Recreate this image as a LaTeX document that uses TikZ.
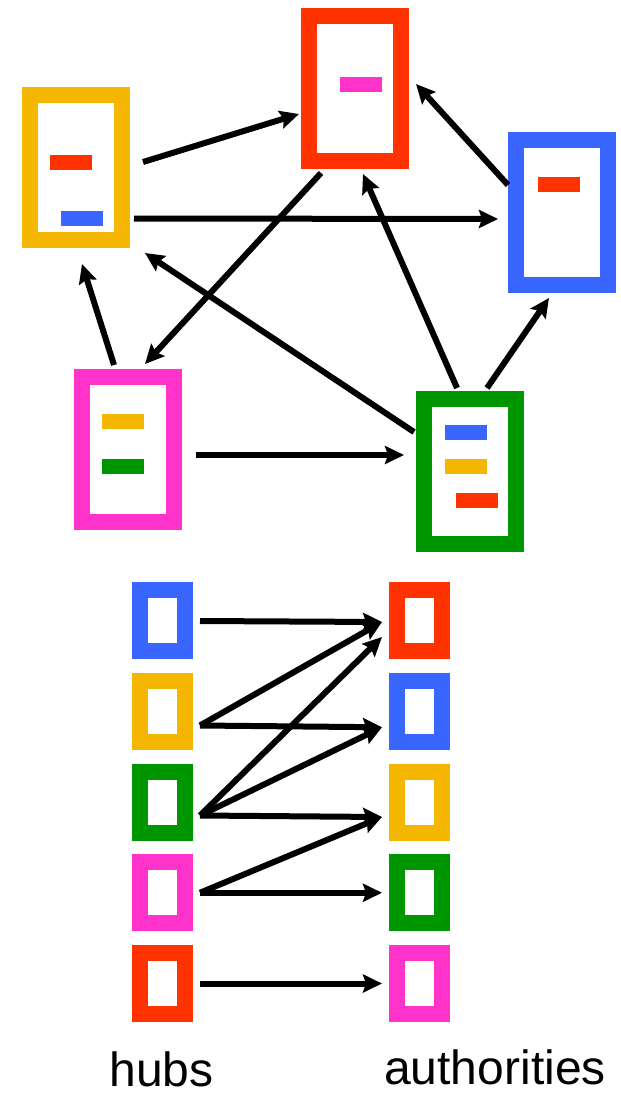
\documentclass[tikz,border=0pt]{standalone}
\usepackage{fontspec}
\setmainfont{Liberation Sans}
\usetikzlibrary{arrows.meta,positioning,calc}
\definecolor{pgred}{RGB}{255,51,0}
\definecolor{pgyellow}{RGB}{244,182,0}
\definecolor{pgblue}{RGB}{56,102,255}
\definecolor{pggreen}{RGB}{0,150,0}
\definecolor{pgpink}{RGB}{255,51,204}

\begin{document}
\begin{tikzpicture}[x=1pt,y=-1pt,>={Stealth[length=19pt,width=18pt,inset=3pt]},
  page/.style={draw=#1,line width=16pt,outer sep=8pt,inner sep=0pt,minimum width=92pt,minimum height=145pt},
  mini/.style={draw=#1,line width=16pt,outer sep=8pt,inner sep=0pt,minimum width=45pt,minimum height=61pt},
  bar/.style={fill=#1,inner sep=0pt,minimum width=42pt,minimum height=15pt},
  link/.style={->,line width=6pt},
  caption/.style={font=\fontsize{48}{56}\selectfont,anchor=base,inner sep=0pt}]
\useasboundingbox (0,0) rectangle (621,1093);
% web graph
\node[page=pgred]    (R) at (355,88.5) {};
\node[page=pgyellow] (Y) at (76,167.5) {};
\node[page=pgblue]   (B) at (562,212.5) {};
\node[page=pgpink]   (P) at (128,449) {};
\node[page=pggreen]  (G) at (470,471.5) {};
\node[bar=pgpink]   (Rl1) at ($(R)+(6,-4)$) {};
\node[bar=pgred]    (Yl1) at ($(Y)+(-5,-5)$) {};
\node[bar=pgblue]   (Yl2) at ($(Y)+(6,51)$) {};
\node[bar=pgred]    (Bl1) at ($(B)+(-3,-28)$) {};
\node[bar=pgyellow] (Pl1) at ($(P)+(-5,-28)$) {};
\node[bar=pggreen]  (Pl2) at ($(P)+(-5,17)$) {};
\node[bar=pgblue]   (Gl1) at ($(G)+(-4,-39)$) {};
\node[bar=pgyellow] (Gl2) at ($(G)+(-4,-5)$) {};
\node[bar=pgred]    (Gl3) at ($(G)+(7,29)$) {};
\draw[link] ($(Y.east)+(13,-5.5)$) -- ($(R.west)+(-2,25.5)$);
\draw[link] ($(Y.east)+(4,51)$) -- ($(B.west)+(-10,6.5)$);
\draw[link] ($(B.west)+(0,-27.5)$) -- ($(R.east)+(7,-4.5)$);
\draw[link] ($(R.south)+(-34,4)$) -- ($(P.north)+(17,-4.5)$);
\draw[link] ($(G.west)+(-2,-39.5)$) -- ($(Y.south)+(69,5)$);
\draw[link] ($(G.north)+(-13,-3)$) -- ($(R.south)+(8,5)$);
\draw[link] ($(G.north)+(17,-3)$) -- ($(B.south)+(-13,5)$);
\draw[link] ($(P.north)+(-14,-3.5)$) -- ($(Y.south)+(6,16)$);
\draw[link] ($(P.east)+(14,6)$) -- ($(G.west)+(-12,-16.5)$);
% hubs and authorities
\foreach \c [count=\i] in {pgblue,pgyellow,pggreen,pgpink,pgred}
  \node[mini=\c] (h\i) at (162,529.75+90.75*\i) {};
\foreach \c [count=\i] in {pgred,pgblue,pgyellow,pggreen,pgpink}
  \node[mini=\c] (a\i) at (419.5,529.75+90.75*\i) {};
\coordinate (s1) at ($(h1.east)+(7.5,0.5)$);
\coordinate (s2) at ($(h2.east)+(7.5,14.25)$);
\coordinate (s3) at ($(h3.east)+(7.5,13.5)$);
\coordinate (s4) at ($(h4.east)+(7.5,0)$);
\coordinate (s5) at ($(h5.east)+(7.5,0)$);
\coordinate (t1) at ($(a1.west)+(-7,1.5)$);
\coordinate (t1b) at ($(a1.west)+(-7,16.5)$);
\coordinate (t2) at ($(a2.west)+(-7,16)$);
\coordinate (t3) at ($(a3.west)+(-7,15)$);
\coordinate (t4) at ($(a4.west)+(-7,0)$);
\coordinate (t5) at ($(a5.west)+(-7,0)$);
\foreach \a/\b in {s1/t1,s2/t1,s2/t2,s3/t1b,s3/t2,s3/t3,s4/t3,s4/t4,s5/t5}
  \draw[link] (\a) -- (\b);
\node[caption] (hubs) at (161.5,1086) {hubs};
\node[caption] (auth) at (495,1084) {authorities};
\end{tikzpicture}
\end{document}
